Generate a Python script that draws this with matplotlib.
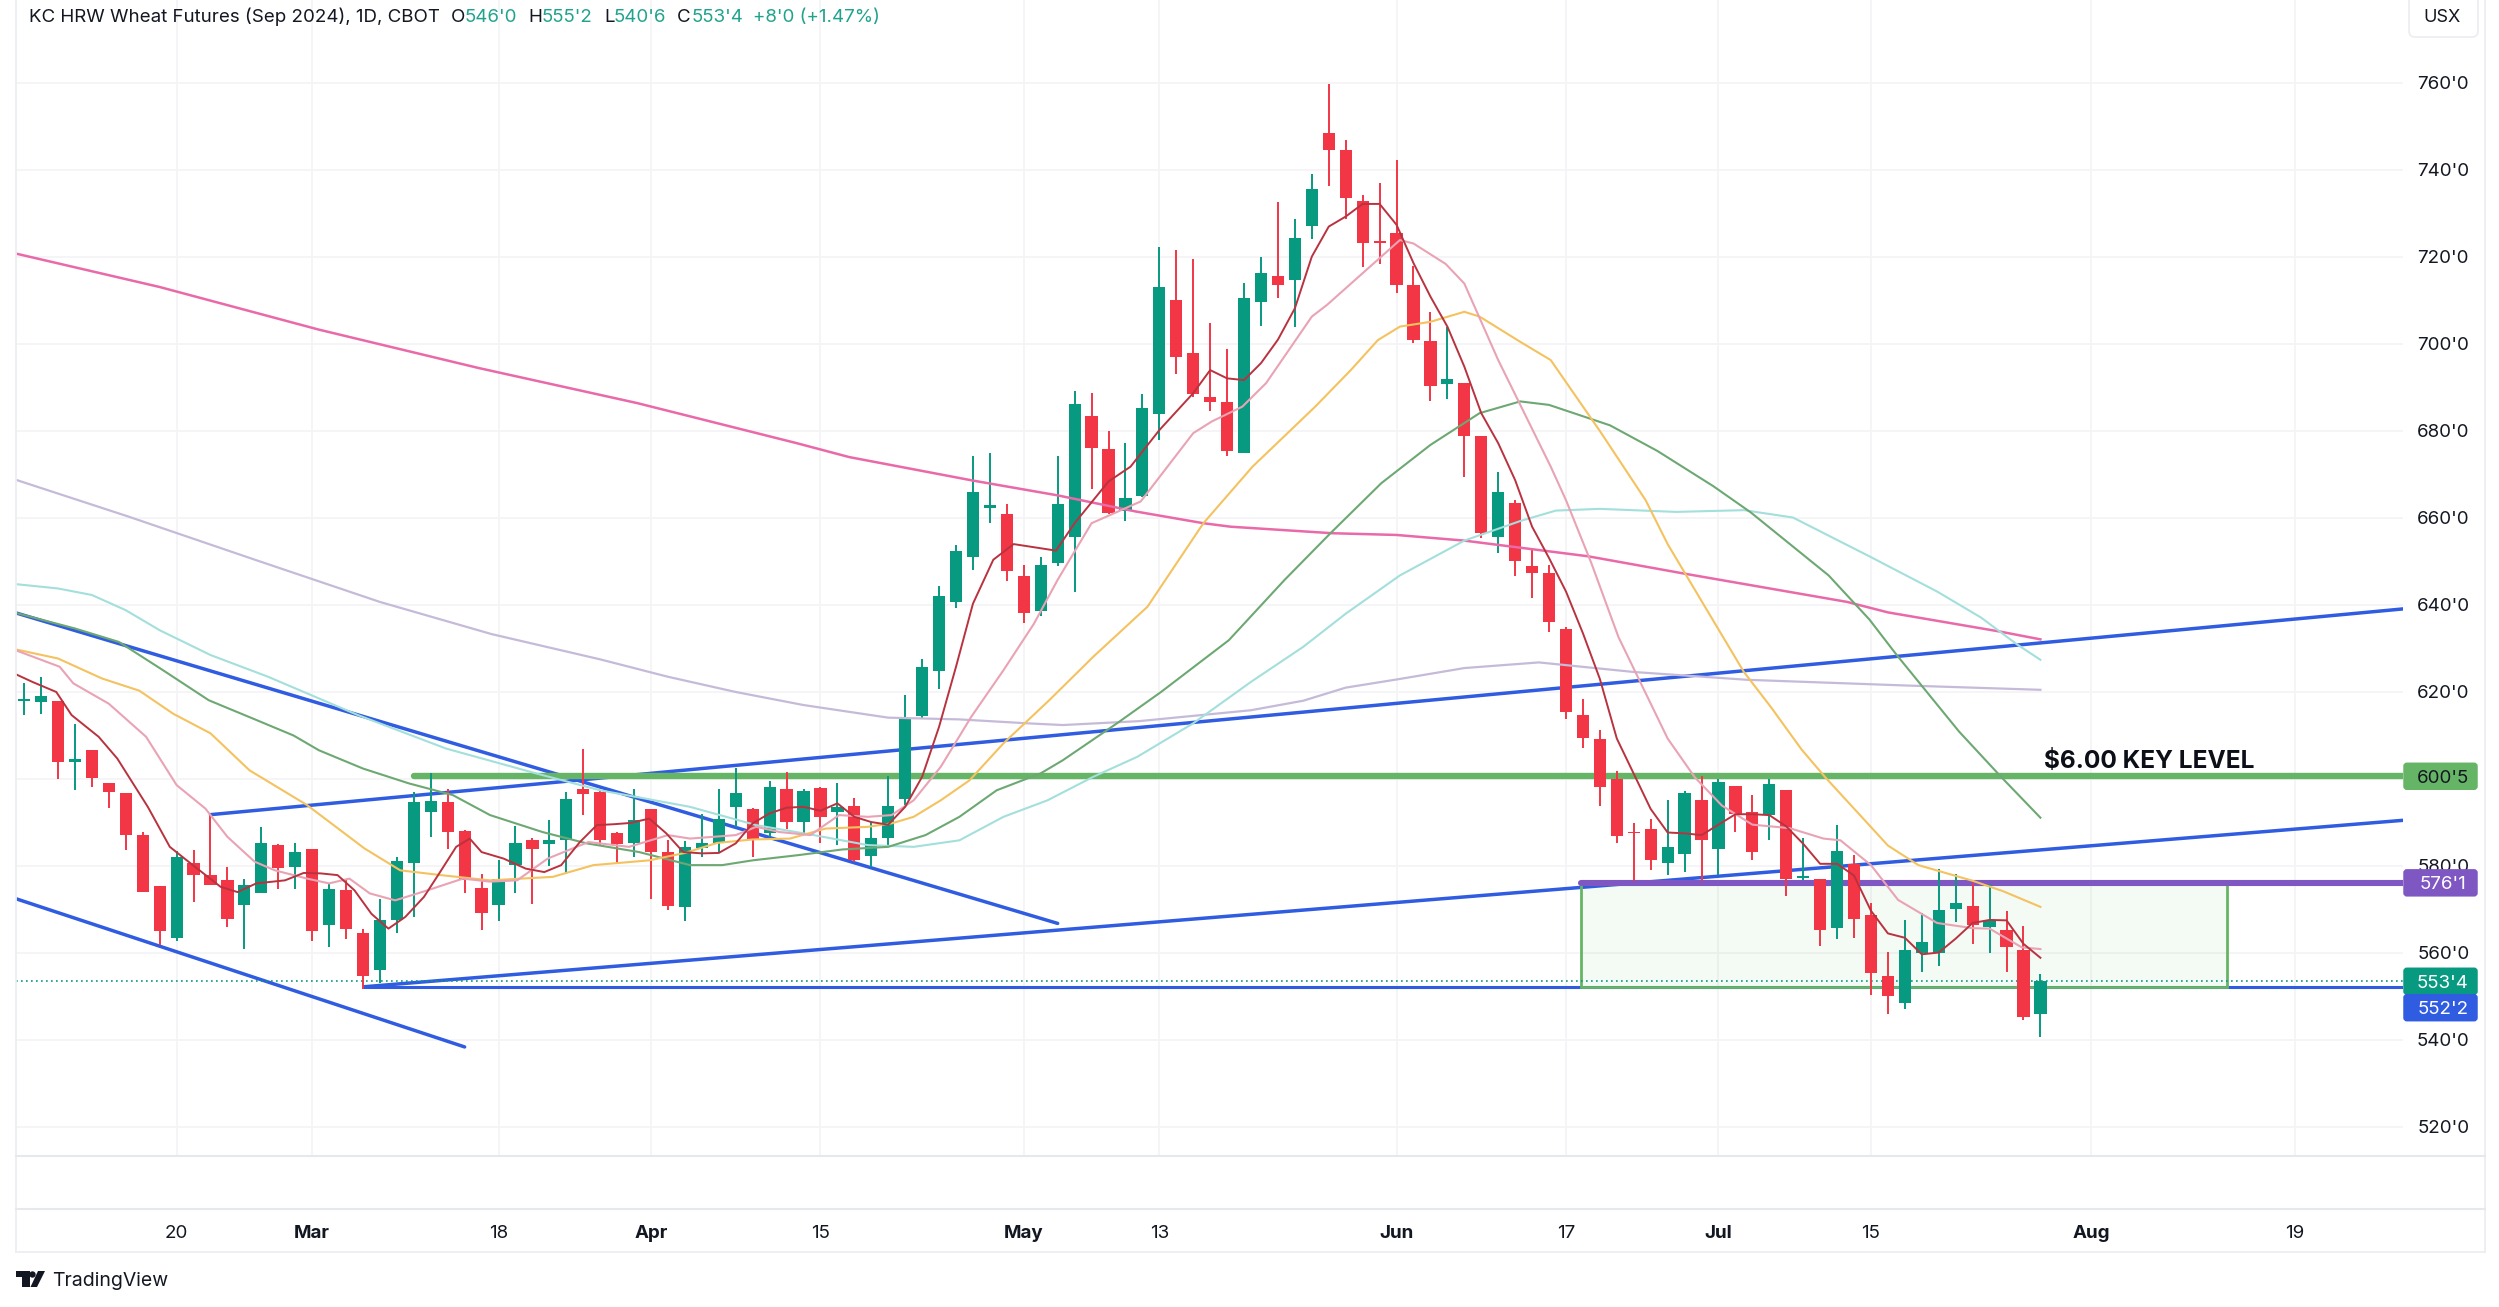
import matplotlib
matplotlib.use("Agg")
import matplotlib.pyplot as plt
from matplotlib.patches import FancyBboxPatch, Polygon, Circle, Rectangle

plt.rcParams['font.family'] = ['Inter', 'DejaVu Sans']

W, H = 2499, 1307

# candles, one entry per daily bar
opens = [618.0, 617.8, 617.9, 603.8, 606.7, 599.0, 596.8, 587.2, 575.4, 563.5,
         580.7, 577.9, 576.7, 571.0, 573.7, 584.8, 579.8, 583.9, 566.4, 574.4,
         564.6, 556.0, 567.5, 580.7, 592.4, 594.7, 588.0, 575.0, 571.0, 580.2,
         585.9, 585.0, 585.9, 597.8, 597.0, 587.6, 585.3, 593.0, 583.2, 570.6,
         584.2, 585.2, 593.6, 593.0, 587.5, 597.6, 590.1, 598.0, 592.3, 593.7,
         582.4, 586.5, 595.5, 614.4, 624.8, 640.6, 651.0, 662.2, 660.9, 646.6,
         638.7, 649.6, 655.7, 683.5, 675.8, 661.5, 665.1, 683.8, 710.0, 697.9,
         687.9, 686.6, 675.0, 709.7, 715.6, 714.7, 727.1, 748.6, 744.6, 732.9,
         723.6, 725.5, 713.6, 700.8, 690.8, 691.0, 678.9, 655.7, 663.4, 648.9,
         647.3, 634.5, 614.7, 609.3, 600.0, 587.9, 588.5, 580.8, 582.8, 595.1,
         583.9, 598.4, 592.3, 591.7, 597.4, 577.3, 577.0, 565.7, 580.5, 568.8,
         554.8, 548.4, 559.9, 559.9, 570.1, 570.8, 565.9, 565.3, 560.7, 546.0]
highs = [622.1, 623.5, 617.9, 612.6, 606.7, 599.0, 596.8, 587.8, 575.4, 583.5,
         583.6, 591.8, 579.8, 577.1, 589.0, 585.0, 585.2, 584.0, 576.1, 576.7,
         565.6, 572.5, 582.0, 597.0, 601.4, 597.6, 588.2, 578.1, 581.3, 589.1,
         586.5, 590.5, 597.0, 606.8, 597.5, 587.8, 597.8, 593.2, 586.0, 585.8,
         592.0, 597.6, 602.6, 593.3, 599.6, 601.6, 597.8, 598.1, 599.1, 595.7,
         590.1, 600.6, 619.3, 627.6, 644.3, 653.8, 674.3, 675.0, 663.2, 649.1,
         651.1, 674.3, 689.2, 688.8, 680.1, 677.2, 688.4, 722.2, 721.6, 719.5,
         704.9, 698.9, 714.1, 720.1, 732.6, 728.8, 739.1, 759.8, 746.9, 734.3,
         737.0, 742.2, 718.0, 707.3, 703.8, 691.0, 678.9, 670.5, 664.1, 653.2,
         649.2, 634.9, 618.3, 611.3, 601.8, 589.9, 590.9, 595.1, 597.3, 600.6,
         600.0, 598.4, 596.4, 600.1, 597.4, 586.5, 577.0, 589.5, 582.5, 571.4,
         560.2, 567.6, 569.1, 579.3, 578.2, 576.2, 575.8, 569.6, 566.1, 555.25]
lows = [614.7, 614.9, 600.0, 597.4, 598.2, 593.4, 583.6, 574.0, 561.8, 562.8,
        571.8, 575.6, 566.0, 561.0, 573.7, 574.8, 574.8, 562.7, 561.4, 563.3,
        551.8, 553.0, 564.6, 568.3, 586.7, 584.0, 573.7, 565.2, 567.3, 573.8,
        571.2, 580.0, 578.1, 591.7, 584.8, 580.7, 582.0, 572.5, 569.8, 567.3,
        582.1, 583.0, 589.0, 582.1, 586.7, 588.4, 587.6, 585.3, 584.8, 581.0,
        579.8, 584.8, 594.0, 614.0, 620.7, 639.2, 648.1, 658.8, 645.5, 635.9,
        637.4, 649.0, 642.9, 666.6, 661.0, 659.4, 664.8, 677.9, 693.1, 687.8,
        684.7, 674.3, 675.0, 704.1, 710.5, 704.0, 724.2, 736.4, 728.7, 717.8,
        718.4, 711.8, 700.3, 686.9, 687.3, 669.5, 655.3, 652.0, 646.7, 641.7,
        633.9, 613.7, 607.2, 593.9, 585.2, 576.6, 579.0, 578.0, 578.6, 576.6,
        578.0, 587.9, 581.4, 586.0, 573.0, 576.8, 561.7, 563.3, 563.5, 550.4,
        546.0, 547.2, 555.6, 557.0, 567.1, 562.1, 560.1, 555.6, 544.7, 540.75]
closes = [618.3, 619.0, 603.9, 604.5, 600.2, 597.0, 587.1, 574.0, 565.1, 582.0,
          577.9, 575.6, 567.9, 575.6, 585.2, 579.5, 583.2, 565.1, 574.8, 565.6,
          554.7, 567.5, 581.2, 594.7, 595.0, 587.8, 576.7, 569.2, 577.1, 585.2,
          583.8, 586.0, 595.4, 596.5, 585.9, 585.0, 590.5, 583.2, 570.8, 584.4,
          585.3, 590.9, 596.7, 586.1, 598.2, 590.1, 597.3, 591.3, 593.6, 581.3,
          586.5, 593.7, 614.0, 625.8, 642.0, 652.3, 666.0, 662.9, 647.8, 638.2,
          649.3, 663.2, 686.1, 676.0, 661.2, 664.7, 685.4, 713.0, 696.9, 688.4,
          686.6, 675.4, 710.6, 716.3, 713.5, 724.3, 735.6, 744.6, 733.6, 723.3,
          723.2, 713.6, 700.9, 690.4, 691.9, 678.9, 656.5, 665.9, 650.0, 647.3,
          636.0, 615.3, 609.5, 598.1, 586.8, 587.6, 581.3, 584.4, 596.8, 586.0,
          599.3, 591.9, 583.2, 598.8, 577.0, 577.8, 565.3, 583.5, 567.7, 555.5,
          550.1, 560.7, 562.6, 569.9, 571.6, 566.4, 567.3, 561.3, 545.3, 553.5]

# moving averages (bar position, price)
ma5_x = [-0.5, 0.5, 1.9, 2.8, 4.4, 5.5, 7.3, 8.6, 9.6, 11.6, 12.6, 13.7, 15.4, 16.5, 17.5, 18.5, 19.5, 20.5, 21.5,
         22.5, 23.6, 24.5, 25.5, 26.3, 27, 28.3, 29.6, 30.7, 31.7, 32.8, 33.8, 34.8, 35.8, 36.9, 37.9, 38.9, 40, 41,
         42, 43, 44, 45, 46, 47, 48, 49, 50, 51, 52, 53, 54, 55, 56, 57.2, 58.4, 60.9, 62, 64, 65.3, 67, 69, 70, 71,
         72, 73, 74, 75, 76, 77, 78, 79, 80, 81, 82, 83, 84, 85, 86, 87, 88, 89, 90, 91, 92, 93, 94, 95, 96, 97, 98,
         99, 100, 101, 102, 103, 104, 105, 106, 107, 108, 109, 110, 111, 112, 113, 114, 115, 116, 117, 118, 119]
ma5_y = [624.1, 622.3, 620.0, 614.7, 609.7, 604.7, 593.6, 584.4, 581.3, 575.2, 574.0, 576.0, 576.7, 578.4, 578.3,
         577.9, 574.4, 569.0, 565.6, 568.3, 572.9, 578.3, 584.4, 586.3, 583.2, 581.7, 579.4, 578.6, 580.2, 585.5,
         589.4, 589.6, 589.9, 590.9, 587.5, 583.2, 582.9, 583.0, 585.2, 589.8, 592.1, 593.4, 593.6, 592.7, 594.4,
         591.3, 590.1, 589.5, 593.6, 600.5, 612.0, 625.8, 640.3, 650.4, 654.0, 652.5, 658.8, 668.4, 671.8, 680.2,
         688.7, 694.0, 692.1, 691.7, 695.6, 701.0, 708.2, 720.1, 727.0, 729.3, 732.2, 732.2, 727.4, 718.6, 710.9,
         704.0, 694.8, 684.1, 677.2, 668.7, 658.0, 650.8, 643.1, 633.5, 623.0, 609.3, 601.2, 593.1, 587.7, 587.5,
         587.1, 589.5, 591.9, 591.9, 591.7, 589.1, 585.1, 580.5, 580.5, 577.8, 569.7, 564.5, 563.5, 559.7, 560.1,
         563.3, 566.9, 567.6, 567.5, 562.1, 558.9]
ma10_x = [-0.5, 2.1, 2.9, 5, 7.2, 9, 10.7, 12, 13.6, 14.8, 16.7, 18, 19.2, 20.4, 21.9, 23.8, 25.9, 27.5, 29.1, 30.9,
          33.3, 35.7, 38, 39.3, 42, 43.2, 44.6, 46.4, 48.1, 49.8, 51.2, 52.5, 54.1, 55.9, 57.8, 59.6, 61, 63, 65.9,
          69, 70.1, 71.9, 73.3, 76, 76.9, 81.2, 82, 83.9, 85, 87, 90.1, 91, 92.5, 94.1, 97, 98.6, 100.2, 102, 104.2,
          106.2, 107.2, 109, 110.6, 112.9, 115, 116, 117.9, 119]
ma10_y = [629.6, 625.8, 622.0, 617.3, 609.7, 598.6, 593.2, 586.7, 581.0, 579.0, 577.1, 576.0, 577.1, 573.7, 572.1,
          574.4, 577.1, 576.4, 576.7, 581.7, 585.5, 584.4, 587.1, 586.3, 587.1, 589.0, 587.8, 587.1, 591.7, 591.3,
          591.7, 595.1, 602.8, 614.3, 625.0, 635.7, 645.8, 658.8, 663.8, 679.5, 682.2, 685.6, 691.0, 706.3, 709.0,
          723.9, 723.1, 718.4, 713.9, 696.3, 671.8, 664.1, 649.6, 632.6, 609.3, 600.4, 593.9, 589.5, 588.7, 586.3,
          585.9, 580.2, 572.2, 566.9, 565.7, 565.6, 561.3, 560.9]
ma20_x = [-0.5, 2, 4.6, 6.8, 8.8, 11, 13.3, 16.7, 20.1, 22.2, 24.6, 27.5, 31.2, 33.6, 36.9, 39, 40.9, 43, 45.2, 47.3,
          49.8, 51.2, 52.5, 54.1, 55.8, 57.8, 60.5, 63.1, 66.3, 69.6, 72.5, 76.2, 78.3, 79.9, 81.2, 83, 85, 85.9,
          88.3, 90.1, 93, 95.7, 97, 98.1, 101.5, 103.1, 104.9, 106.3, 108.4, 110, 111.8, 115, 116.8, 119]
ma20_y = [629.8, 627.7, 623.1, 620.3, 615.0, 610.5, 602.0, 594.0, 584.0, 579.0, 577.9, 576.7, 577.5, 580.2, 581.3,
          583.0, 585.3, 586.1, 586.3, 588.6, 589.0, 589.8, 591.3, 595.1, 599.7, 608.2, 618.1, 628.1, 639.6, 658.8,
          671.8, 685.6, 694.0, 700.9, 704.0, 705.1, 707.4, 706.3, 700.5, 696.3, 680.0, 664.1, 654.0, 646.8, 624.6,
          616.5, 606.8, 600.4, 591.5, 584.7, 580.2, 576.6, 574.2, 570.6]
ma50_x = [-0.5, 3, 5.6, 8.2, 10.9, 13.5, 15.9, 17.4, 20, 22.7, 25.3, 27.5, 30.6, 33.2, 36.3, 39.3, 41.2, 43, 45.7,
          48.3, 51, 53.2, 55.2, 57.4, 60, 61.3, 64.5, 67.1, 71.1, 74.4, 77.1, 80.1, 83, 85.9, 88.3, 90, 93.6, 96.4,
          99.7, 101.9, 106.5, 108.9, 110.5, 114.2, 116.7, 119]
ma50_y = [638.2, 634.6, 631.5, 625.0, 618.1, 613.9, 610.0, 606.6, 602.4, 599.0, 596.3, 591.7, 587.8, 585.2, 583.2,
          580.2, 580.2, 581.3, 582.5, 583.8, 584.4, 587.1, 591.3, 597.4, 601.3, 604.3, 612.8, 620.0, 631.9, 645.8,
          656.5, 668.0, 676.8, 684.1, 686.8, 686.0, 681.3, 675.4, 667.3, 661.3, 646.8, 636.7, 628.6, 610.9, 600.4,
          591.1]
ma100_x = [-0.5, 2, 4, 6, 8, 11, 14.4, 19.7, 24.9, 30.2, 34, 39.3, 43.2, 46.6, 49.8, 52.5, 55.2, 57.8, 60.4, 63.1,
           65.7, 69, 72.4, 75.5, 78, 81.2, 85, 88.3, 90.4, 93, 97.5, 101.5, 104.4, 108.9, 112.9, 115.5, 117.6, 119]
ma100_y = [644.8, 643.8, 642.3, 638.8, 634.2, 628.5, 623.5, 614.7, 607.0, 601.3, 597.4, 593.6, 589.4, 587.1, 584.8,
           584.4, 585.9, 591.3, 595.1, 600.5, 605.1, 612.8, 622.3, 630.4, 638.0, 646.8, 654.8, 659.3, 661.7, 662.1,
           661.4, 661.8, 660.1, 651.2, 643.1, 637.1, 631.0, 627.4]
ma200_x = [-0.5, 6.1, 13.7, 21, 27.6, 34, 38, 42, 46, 51, 55.2, 59.2, 61.3, 65.8, 72.4, 75.5, 78, 81.2, 85, 89.4, 95,
           101.7, 106, 111, 119]
ma200_y = [668.8, 660.4, 650.3, 640.7, 633.3, 627.5, 623.5, 620.0, 617.0, 614.1, 613.7, 612.8, 612.4, 613.3, 615.8,
           618.0, 621.0, 623.0, 625.5, 626.8, 624.6, 622.8, 622.2, 621.5, 620.5]
ma250_x = [-0.5, 8, 17.4, 26.8, 36.2, 45.6, 48.7, 56, 61, 65.6, 69.6, 71.2, 77.2, 81, 85, 92.3, 98, 107.6, 110, 116.6,
           119]
ma250_y = [720.8, 713.1, 703.3, 694.5, 686.4, 677.2, 674.0, 668.6, 665.2, 661.5, 658.8, 658.0, 656.5, 656.1, 654.8,
           651.2, 647.2, 640.7, 638.3, 633.9, 632.1]

# drawn trendlines: (x0, p0, x1, p1)
falling_upper = (-0.5, 638.2, 61, 566.8)
falling_lower = (-0.5, 572.5, 26, 538.4)
rising_upper = (11, 591.8, 140.4, 639.1)
rising_lower = (20.1, 552.25, 140.4, 590.5)

last_close = 553.5
support = 552.25
resistance = 576.125
key_level = 600.625
key_start = 23
zone_start = 91.9
zone_end = 130

price_ticks = [520, 540, 560, 580, 600, 620, 640, 660, 680, 700, 720, 740, 760]
time_ticks = [9, 17, 28, 37, 47, 59, 67, 81, 91, 100, 109, 122, 134]
time_labels = ['20', 'Mar', '18', 'Apr', '15', 'May', '13', 'Jun', '17', 'Jul', '15', 'Aug', '19']
bold_labels = ['Mar', 'Apr', 'May', 'Jun', 'Jul', 'Aug']

UP = '#089981'
DOWN = '#f23645'
BLUE = '#2f5ce0'
GREEN = '#66b566'
PURPLE = '#7e57c2'
GRID = '#f3f4f6'
INK = '#131722'

fig = plt.figure(figsize=(W / 100, H / 100), dpi=100, facecolor='white')
ax = fig.add_axes([15.5 / W, 1 - 1156 / H, (2403 - 15.5) / W, 1156 / H])
ax.set_xlim(-0.508, 140.4)
ax.set_ylim(513.33, 779.08)

for s in ax.spines.values():
    s.set_visible(False)
ax.set_yticks(price_ticks)
ax.set_yticklabels([f"{p}'0" for p in price_ticks], fontsize=13.5, color=INK, ha='center', va='center_baseline')
ax.yaxis.tick_right()
ax.tick_params(axis='y', length=0, pad=29)
ax.set_xticks(time_ticks)
ax.set_xticklabels(time_labels, fontsize=13.5, color=INK)
ax.tick_params(axis='x', length=0, pad=50)
for lab in ax.get_xticklabels():
    if lab.get_text() in bold_labels:
        lab.set_fontweight('bold')
ax.grid(True, color=GRID, lw=1.2, zorder=0)
ax.set_axisbelow(True)

# drawings sit under the candles
for x0, p0, x1, p1 in (falling_upper, falling_lower, rising_upper, rising_lower):
    ax.plot([x0, x1], [p0, p1], color=BLUE, lw=2.5, zorder=2, solid_capstyle='round')
ax.plot([rising_lower[0], 140.4], [support, support], color=BLUE, lw=2.2, zorder=2)
ax.add_patch(Rectangle((zone_start, support), zone_end - zone_start, resistance - support,
                       facecolor='#4caf50', alpha=0.06, edgecolor='none', zorder=1.5))
ax.add_patch(Rectangle((zone_start, support), zone_end - zone_start, resistance - support,
                       facecolor='none', edgecolor=GREEN, lw=2.0, zorder=2.1))
ax.plot([key_start, 140.4], [key_level, key_level], color=GREEN, lw=4.6, zorder=2.2, solid_capstyle='round')
ax.plot([zone_start, 140.4], [resistance, resistance], color=PURPLE, lw=4.4, zorder=2.2, solid_capstyle='round')
ax.axhline(last_close, color=UP, lw=1.2, ls=(0, (1, 2)), zorder=2.3)

# candles
bars = range(len(opens))
colors = [UP if c >= o else DOWN for o, c in zip(opens, closes)]
ax.vlines(bars, lows, highs, colors=colors, lw=1.4, zorder=3)
ax.bar(bars, [abs(c - o) for o, c in zip(opens, closes)], bottom=[min(o, c) for o, c in zip(opens, closes)],
       width=0.72, color=colors, linewidth=0, zorder=3)

# moving averages on top
for xs, ys, col, lw in ((ma250_x, ma250_y, '#e969a9', 1.8), (ma200_x, ma200_y, '#c6bad9', 1.6),
                        (ma100_x, ma100_y, '#a3dfdb', 1.5), (ma50_x, ma50_y, '#6da873', 1.5),
                        (ma20_x, ma20_y, '#f4c25f', 1.5), (ma10_x, ma10_y, '#e9a3b4', 1.5),
                        (ma5_x, ma5_y, '#b9323f', 1.4)):
    ax.plot(xs, ys, color=col, lw=lw, zorder=4)

ax.text(125.4, 604.0, '$6.00 KEY LEVEL', fontsize=17.6, fontweight='bold', color='#0c0f17',
        ha='center', va='center', zorder=5)

# page chrome in pixel coordinates
ov = fig.add_axes([0, 0, 1, 1], zorder=10)
ov.set_xlim(0, W)
ov.set_ylim(H, 0)
ov.axis('off')
ov.patch.set_alpha(0)
for xs, ys in (([15.5, 15.5], [0, 1252]), ([2484.7, 2484.7], [0, 1252]), ([15.5, 2484.7], [1252, 1252])):
    ov.plot(xs, ys, color='#eceef2', lw=1.3)
for yy in (1156, 1209):
    ov.plot([15.5, 2484.7], [yy, yy], color='#e6e8ed', lw=1.5)


def price_y(p):
    return H - ax.transData.transform((0, p))[1]


for value, label, bg, fg, shift in ((key_level, "600'5", GREEN, INK, 0), (resistance, "576'1", PURPLE, 'white', 0),
                                    (last_close, "553'4", UP, 'white', 0), (support, "552'2", BLUE, 'white', 21)):
    yc = price_y(value) + shift
    ov.add_patch(FancyBboxPatch((2405, yc - 12), 71, 24, boxstyle='round,pad=0,rounding_size=2',
                                mutation_aspect=1, facecolor=bg, edgecolor=bg, lw=2.5))
    ov.text(2443, yc, label, fontsize=13.5, color=fg, ha='center', va='center_baseline')

# usx button
ov.add_patch(FancyBboxPatch((2409, -6), 69, 43, boxstyle='round,pad=0,rounding_size=6',
                            facecolor='white', edgecolor='#eceef2', lw=1.3))
ov.text(2442, 17, 'USX', fontsize=13, color=INK, ha='center', va='center')

# legend row
ov.text(29, 17, 'KC HRW Wheat Futures (Sep 2024), 1D, CBOT', fontsize=13.5, color=INK, va='center')
for x, s in ((451, 'O'), (528, 'H'), (604, 'L'), (677, 'C')):
    ov.text(x, 17, s, fontsize=13.5, color=INK, va='center')
for x, s in ((465, "546'0"), (542, "555'2"), (614, "540'6"), (692, "553'4"), (753, "+8'0 (+1.47%)")):
    ov.text(x, 17, s, fontsize=13.5, color=UP, va='center', alpha=0.9)

# tradingview mark
ov.add_patch(Polygon([(15.5, 1271), (30, 1271), (30, 1287), (21.5, 1287), (21.5, 1277), (15.5, 1277)], color='#131722', lw=0))
ov.add_patch(Circle((32.5, 1274.5), 3.2, color='#131722', lw=0))
ov.add_patch(Polygon([(38, 1271), (45, 1271), (37, 1287), (30.5, 1287)], color='#131722', lw=0))
ov.text(52.5, 1281, 'TradingView', fontsize=14, color=INK, va='center')

fig.savefig('out.png', dpi=100)
